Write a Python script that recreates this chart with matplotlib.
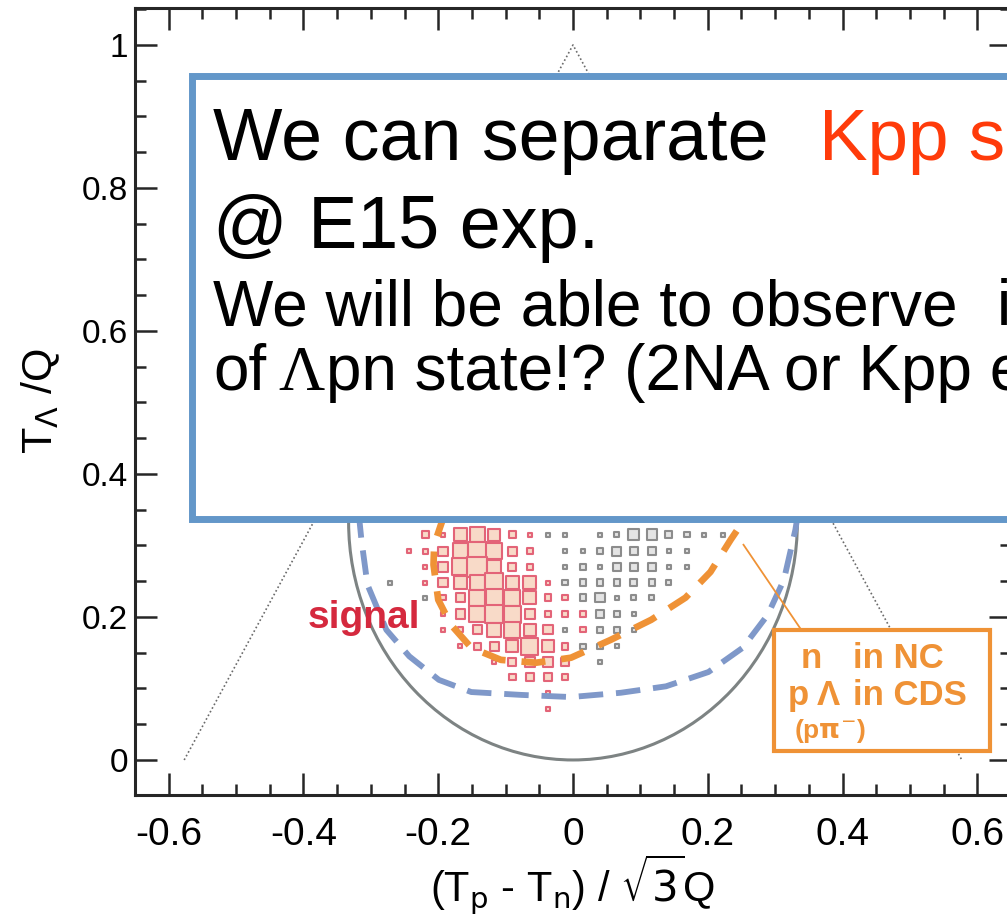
import matplotlib
matplotlib.use("Agg")
import matplotlib.pyplot as plt
from matplotlib import font_manager
from matplotlib.patches import Rectangle, Ellipse

W, H = 1007, 921

# Dalitz histogram: bin centres (x = (Tp-Tn)/sqrt(3)Q, y = T_Lambda/Q)
x_bins = [-0.271, -0.244, -0.219, -0.193, -0.167, -0.142, -0.117, -0.090, -0.064, -0.037,
          -0.012, 0.015, 0.040, 0.065, 0.090, 0.117, 0.142, 0.169, 0.194, 0.222]
y_bins = [0.315, 0.292, 0.270, 0.248, 0.227, 0.204, 0.182, 0.159, 0.137, 0.116, 0.094, 0.071]

# bin contents, one row per y bin (top to bottom)
signal_counts = [
    [0, 0, 5, 3, 10, 11, 9, 5, 3, 0, 0, 0, 0, 0, 0, 0, 0, 0, 0, 0],
    [0, 3, 4, 7, 12, 14, 12, 7, 5, 0, 0, 0, 0, 0, 0, 0, 0, 0, 0, 0],
    [0, 0, 3, 7, 13, 15, 11, 6, 5, 0, 0, 0, 0, 0, 0, 0, 0, 0, 0, 0],
    [0, 0, 3, 7, 10, 11, 14, 10, 10, 3, 0, 0, 0, 0, 0, 0, 0, 0, 0, 0],
    [0, 0, 0, 4, 7, 12, 13, 12, 10, 5, 4, 0, 0, 0, 0, 0, 0, 0, 0, 0],
    [0, 0, 0, 3, 7, 12, 14, 13, 8, 5, 4, 5, 0, 0, 0, 0, 0, 0, 0, 0],
    [0, 0, 0, 3, 4, 7, 11, 12, 9, 7, 0, 4, 0, 0, 0, 0, 0, 0, 0, 0],
    [0, 0, 0, 0, 3, 5, 7, 9, 13, 9, 5, 0, 0, 0, 0, 0, 0, 0, 0, 0],
    [0, 0, 0, 0, 0, 0, 3, 6, 8, 8, 6, 0, 0, 0, 0, 0, 0, 0, 0, 0],
    [0, 0, 0, 0, 0, 0, 0, 5, 6, 6, 5, 0, 0, 0, 0, 0, 0, 0, 0, 0],
    [0, 0, 0, 0, 0, 0, 0, 0, 0, 3, 0, 0, 0, 0, 0, 0, 0, 0, 0, 0],
    [0, 0, 0, 0, 0, 0, 0, 0, 0, 3, 0, 0, 0, 0, 0, 0, 0, 0, 0, 0],
]
background_counts = [
    [0, 0, 0, 0, 0, 0, 0, 0, 0, 3, 3, 0, 3, 4, 8, 8, 5, 4, 3, 3],
    [0, 0, 0, 0, 0, 0, 0, 0, 0, 0, 3, 3, 5, 7, 6, 6, 3, 3, 0, 0],
    [0, 0, 0, 0, 0, 0, 0, 0, 0, 0, 3, 4, 3, 6, 6, 6, 3, 3, 0, 0],
    [3, 0, 0, 0, 0, 0, 0, 0, 0, 0, 4, 5, 5, 5, 5, 5, 4, 0, 0, 0],
    [0, 0, 3, 0, 0, 0, 0, 0, 0, 0, 0, 5, 7, 3, 4, 4, 0, 0, 0, 0],
    [0, 0, 0, 0, 0, 0, 0, 0, 0, 0, 0, 0, 6, 5, 3, 0, 0, 0, 0, 0],
    [0, 0, 0, 0, 0, 0, 0, 0, 0, 0, 3, 0, 5, 5, 3, 0, 0, 0, 0, 0],
    [0, 0, 0, 0, 0, 0, 0, 0, 0, 0, 0, 4, 4, 3, 0, 0, 0, 0, 0, 0],
    [0, 0, 0, 0, 0, 0, 0, 0, 0, 0, 0, 0, 3, 0, 0, 0, 0, 0, 0, 0],
    [0] * 20,
    [0] * 20,
    [0] * 20,
]

# kinematic boundary (circle touching the origin) and the phase-space triangle
boundary_radius = 0.333
triangle_x = [-0.577, 0.0, 0.577]
triangle_y = [0.0, 1.0, 0.0]

# acceptance contours
cds_x = [-0.318, -0.314, -0.305, -0.277, -0.243, -0.199, -0.151, -0.077, -0.003,
         0.071, 0.138, 0.201, 0.252, 0.289, 0.313, 0.330, 0.334]
cds_y = [0.345, 0.308, 0.245, 0.182, 0.145, 0.112, 0.095, 0.091, 0.088,
         0.094, 0.103, 0.123, 0.157, 0.203, 0.252, 0.322, 0.345]
nc_x = [-0.190, -0.196, -0.206, -0.207, -0.200, -0.181, -0.151, -0.107, -0.055, -0.003,
        0.056, 0.116, 0.167, 0.204, 0.234, 0.252, 0.262]
nc_y = [0.345, 0.329, 0.301, 0.273, 0.224, 0.189, 0.157, 0.140, 0.136, 0.143,
        0.168, 0.196, 0.227, 0.263, 0.308, 0.333, 0.345]

x_ticks = [-0.6, -0.4, -0.2, 0.0, 0.2, 0.4, 0.6]
x_tick_labels = ["-0.6", "-0.4", "-0.2", "0", "0.2", "0.4", "0.6"]
y_ticks = [0.0, 0.2, 0.4, 0.6, 0.8, 1.0]
y_tick_labels = ["0", "0.2", "0.4", "0.6", "0.8", "1"]


def pick(*names):
    have = {f.name for f in font_manager.fontManager.ttflist}
    for n in names:
        if n in have:
            return n
    return "DejaVu Sans"


SANS = pick("Liberation Sans", "Arial")
SERIF = pick("Liberation Serif", "DejaVu Serif")

plt.rcParams["font.family"] = [SANS, "DejaVu Sans"]
plt.rcParams["mathtext.fontset"] = "dejavusans"

INK = "#262626"
ORANGE = "#ef9236"
BLUE = "#7f98c9"

fig = plt.figure(figsize=(W / 100, H / 100), dpi=100)
ax = fig.add_axes([135 / W, 126 / H, 876 / W, 787 / H])
ax.set_xlim(-0.6474, 0.650)
ax.set_ylim(-0.049, 1.0517)

# phase-space triangle and kinematic boundary
ax.plot(triangle_x, triangle_y, color="#6a6a6a", lw=1.2, ls=(0, (1, 1.5)), zorder=2)
ax.add_patch(Ellipse((0, boundary_radius), 2 * boundary_radius, 2 * boundary_radius,
                     fill=False, ec="#7d8383", lw=2.2, zorder=3))

# box histogram: side of each box follows the bin content
for counts, ec, fc in [(background_counts, "#8c8c8c", "#e4e4e4"),
                       (signal_counts, "#e36478", "#f8dac8")]:
    xs, ys, ss = [], [], []
    for j, row in enumerate(counts):
        for i, c in enumerate(row):
            if c > 0:
                xs.append(x_bins[i])
                ys.append(y_bins[j])
                ss.append((0.95 * c) ** 2)
    ax.scatter(xs, ys, s=ss, marker="s", facecolors=fc, edgecolors=ec,
               linewidths=1.5, zorder=3)

# acceptance cuts
ax.plot(cds_x, cds_y, color=BLUE, lw=4.2, dashes=(4.2, 2.2), dash_capstyle="butt", zorder=4)
ax.plot(nc_x, nc_y, color=ORANGE, lw=4.8, dashes=(3.6, 2.4), dash_capstyle="butt", zorder=5)

ax.text(-0.393, 0.185, "signal", color="#d5293e", fontsize=28, fontweight="bold",
        va="baseline", zorder=6)

# legend box for the NC / CDS acceptance with its leader line
ax.plot([0.253, 0.338], [0.301, 0.183], color=ORANGE, lw=1.3, zorder=6)
ax.add_patch(Rectangle((0.299, 0.0126), 0.320, 0.169, fc="white", ec=ORANGE, lw=3.0,
                       zorder=7, clip_on=False))
obox = dict(color=ORANGE, fontweight="bold", va="baseline", zorder=8)
ax.text(0.338, 0.129, "n", fontsize=25, **obox)
ax.text(0.415, 0.129, "in NC", fontsize=25, **obox)
ax.text(0.319, 0.077, "p", fontsize=25, **obox)
ax.text(0.362, 0.077, "\u039b", fontsize=25, **obox)
ax.text(0.416, 0.077, "in CDS", fontsize=25, **obox)
ax.text(0.328, 0.031, r"(p$\mathbf{\pi}^{-}$)", fontsize=19, **obox)

# axes styling
for sp in ax.spines.values():
    sp.set_linewidth(2.2)
    sp.set_color(INK)
ax.set_xticks(x_ticks)
ax.set_xticklabels(x_tick_labels, fontsize=28)
ax.set_yticks(y_ticks)
ax.set_yticklabels(y_tick_labels, fontsize=24)
ax.set_xticks([v / 20 for v in range(-13, 14)], minor=True)
ax.set_yticks([v / 20 for v in range(0, 22)], minor=True)
ax.tick_params(which="both", direction="in", top=True, right=True, color=INK, width=1.8)
ax.tick_params(which="major", length=16)
ax.tick_params(which="minor", length=8)
ax.tick_params(axis="x", which="major", pad=16)
ax.tick_params(axis="y", which="major", pad=5)

ax.text(-0.108, 0.50, r"T$_{\Lambda}$ /Q", transform=ax.transAxes, rotation=90,
        fontsize=31, ha="center", va="center")
ax.text(0.499, -0.114, r"(T$_{\mathrm{p}}$ - T$_{\mathrm{n}}$) / $\sqrt{3}$Q",
        transform=ax.transAxes, fontsize=30, ha="center", va="center")

# slide call-out box laid over the plot
fig.add_artist(Rectangle((192 / W, 1 - 519 / H), (1040 - 192) / W, (519 - 76) / H,
                         transform=fig.transFigure, fc="white", ec="#6397c9", lw=5.0,
                         zorder=1))

renderer = fig.canvas.get_renderer()


def page_text(x, y, s, **kw):
    return fig.text(x / W, 1 - y / H, s, va="baseline", zorder=3, **kw)


def right_edge(t):
    return t.get_window_extent(renderer).x1


page_text(213, 160, "We can separate", fontsize=53)
page_text(819, 160, "Kpp s", fontsize=52.5, color="#ff3b0a")
page_text(213, 248, "@ E15 exp.", fontsize=53)
page_text(213, 325, "We will be able to observe", fontsize=46)
page_text(997, 325, "i", fontsize=46)
t = page_text(213, 390, "of", fontsize=46)
t = page_text(right_edge(t) + 12, 390, "\u039b", fontsize=46, fontfamily=SERIF)
page_text(right_edge(t) + 2, 390, "pn state!? (2NA or Kpp e", fontsize=46)

fig.savefig("out.png", dpi=100)
